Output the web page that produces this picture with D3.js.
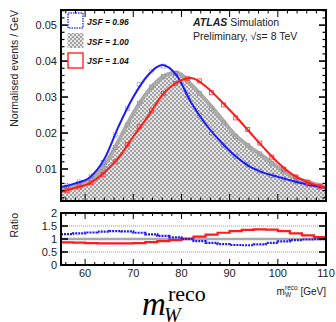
<!DOCTYPE html>
<html><head><meta charset="utf-8">
<script src="https://cdn.jsdelivr.net/npm/d3@7"></script>
<style>body{margin:0;background:#fff}svg{display:block}</style>
</head><body><div id="c"></div>
<script>
// ---- data ----
const fitX = [55,58,61,64,67,70,73,76,79,82,85,88,91,94,97,100,103,106,110];
const fitBlue = [0.0050,0.0060,0.0077,0.0128,0.0220,0.0300,0.0360,0.0389,0.0360,0.0285,0.0225,0.0178,0.0138,0.0108,0.0090,0.0078,0.0067,0.0057,0.0047];
const fitGray = [0.0042,0.0055,0.0068,0.0110,0.0180,0.0255,0.0315,0.0355,0.0368,0.0335,0.0292,0.0245,0.0196,0.0163,0.0135,0.0105,0.0080,0.0065,0.0050];
const fitRed  = [0.0036,0.0048,0.0060,0.0090,0.0132,0.0190,0.0245,0.0305,0.0340,0.0353,0.0330,0.0292,0.0250,0.0205,0.0160,0.0118,0.0085,0.0064,0.0048];

const binEdges = [55,57.5,60,62.5,65,67.5,70,72.5,75,77.5,80,82.5,85,87.5,90,92.5,95,97.5,100,102.5,105,107.5,110];
const histBlue = [0.0054,0.0064,0.0080,0.0118,0.0195,0.0268,0.0335,0.0372,0.0386,0.0365,0.0305,0.0248,0.0200,0.0166,0.0135,0.0112,0.0094,0.0082,0.0072,0.0064,0.0056,0.0049];
const histGray = [0.0046,0.0056,0.0071,0.0102,0.0160,0.0222,0.0283,0.0328,0.0357,0.0366,0.0345,0.0310,0.0268,0.0228,0.0190,0.0165,0.0142,0.0115,0.0092,0.0076,0.0064,0.0053];
const histRed  = [0.0040,0.0050,0.0062,0.0085,0.0120,0.0168,0.0218,0.0262,0.0310,0.0338,0.0352,0.0345,0.0312,0.0278,0.0242,0.0210,0.0172,0.0133,0.0100,0.0078,0.0062,0.0052];

const ratioBlue = [1.19,1.22,1.25,1.28,1.30,1.29,1.24,1.18,1.12,1.06,0.99,0.92,0.85,0.80,0.77,0.76,0.79,0.85,0.91,0.96,0.98,0.99];
const ratioRed  = [0.87,0.86,0.84,0.83,0.83,0.83,0.84,0.88,0.92,0.96,1.02,1.09,1.17,1.24,1.30,1.35,1.37,1.36,1.30,1.22,1.14,1.07];

const yTicksMain = [0.01,0.02,0.03,0.04,0.05];
const yTicksRatio = [0,0.5,1,1.5,2];
const xTicks = [60,70,80,90,100,110];
const legendLabels = ["JSF = 0.96","JSF = 1.00","JSF = 1.04"];

// ---- layout ----
const SANS="'Liberation Sans',Arial,sans-serif", SERIF="'Liberation Serif','DejaVu Serif',serif";
const W=336,H=322;
const L=61,R=326,mT=10,mB=201,rT=213,rB=265;
const svg=d3.select("#c").append("svg").attr("width",W).attr("height",H).attr("font-family",SANS);
const defs=svg.append("defs");
const pat=defs.append("pattern").attr("id","chk").attr("patternUnits","userSpaceOnUse").attr("width",4).attr("height",4);
pat.append("rect").attr("width",4).attr("height",4).attr("fill","#e4e4e4");
pat.append("rect").attr("width",2).attr("height",2).attr("fill","#a2a2a2");
pat.append("rect").attr("x",2).attr("y",2).attr("width",2).attr("height",2).attr("fill","#a2a2a2");
defs.append("clipPath").attr("id","cm").append("rect").attr("x",L).attr("y",mT).attr("width",R-L).attr("height",mB-mT);
defs.append("clipPath").attr("id","cr").append("rect").attr("x",L).attr("y",rT).attr("width",R-L).attr("height",rB-rT);

const x=d3.scaleLinear().domain([55,110]).range([L,R]);
const y=d3.scaleLinear().domain([0.0011,0.0542]).range([mB,mT]);
const yr=d3.scaleLinear().domain([0,2]).range([rB,rT]);

const gm=svg.append("g").attr("clip-path","url(#cm)");
const fitG=fitX.map((v,i)=>[v,fitGray[i]]);
gm.append("path").datum(fitG).attr("fill","url(#chk)")
  .attr("d",d3.area().x(d=>x(d[0])).y0(mB).y1(d=>y(d[1])-1).curve(d3.curveMonotoneX));

function histPts(vals){const p=[];vals.forEach((v,i)=>{p.push([binEdges[i],v]);p.push([binEdges[i+1],v]);});return p;}
function drawMarks(vals,color,dash){
  gm.selectAll(null).data(vals).enter().append("rect")
    .attr("x",(d,i)=>x((binEdges[i]+binEdges[i+1])/2)-2).attr("width",4)
    .attr("y",d=>y(d)-2).attr("height",4).attr("fill","none").attr("stroke",color).attr("stroke-width",0.8).attr("stroke-dasharray",dash||null);
}
const fitLine=d3.line().x(d=>x(d[0])).y(d=>y(d[1])).curve(d3.curveMonotoneX);
gm.append("path").datum(fitG).attr("fill","none").attr("stroke","#aaaaaa").attr("stroke-width",4).attr("d",fitLine);
drawMarks(histGray,"#999");
drawMarks(histBlue,"#4455ff","1,1");
gm.append("path").datum(fitX.map((v,i)=>[v,fitBlue[i]])).attr("fill","none").attr("stroke","#1a1aff").attr("stroke-width",2).attr("d",fitLine);
drawMarks(histRed,"#ff3333");
gm.append("path").datum(fitX.map((v,i)=>[v,fitRed[i]])).attr("fill","none").attr("stroke","#ff1a1a").attr("stroke-width",2).attr("d",fitLine);

function ticksFrame(top,bot,yscale,yMajor,yMinor,majLen){
  const g=svg.append("g").attr("stroke","#000");
  d3.range(56,110.01,2).forEach(v=>{const l=xTicks.includes(v)?majLen:majLen/2;
    g.append("line").attr("x1",x(v)).attr("x2",x(v)).attr("y1",bot).attr("y2",bot-l).attr("stroke-width",1);
    g.append("line").attr("x1",x(v)).attr("x2",x(v)).attr("y1",top).attr("y2",top+l).attr("stroke-width",1);});
  yMinor.forEach(v=>{const maj=yMajor.some(m=>Math.abs(m-v)<1e-9);const l=maj?7:3.5;
    g.append("line").attr("x1",L).attr("x2",L+l).attr("y1",yscale(v)).attr("y2",yscale(v)).attr("stroke-width",maj?1.6:1.2);
    g.append("line").attr("x1",R).attr("x2",R-l).attr("y1",yscale(v)).attr("y2",yscale(v)).attr("stroke-width",maj?1.6:1.2);});
  svg.append("rect").attr("x",L).attr("y",top).attr("width",R-L).attr("height",bot-top).attr("fill","none").attr("stroke","#000").attr("stroke-width",2);
}
ticksFrame(mT,mB,y,yTicksMain,d3.range(0.002,0.0541,0.002),7);
svg.selectAll(null).data(yTicksMain).enter().append("text")
  .attr("x",L-4).attr("y",d=>y(d)+4).attr("text-anchor","end").attr("font-size",11).attr("fill","#222").text(d=>d.toFixed(2));

const gr=svg.append("g").attr("clip-path","url(#cr)");
[0.5,1.5].forEach(v=>gr.append("line").attr("x1",L).attr("x2",R).attr("y1",yr(v)).attr("y2",yr(v)).attr("stroke","#999").attr("stroke-width",1.2).attr("stroke-dasharray","1,1"));
gr.append("line").attr("x1",L).attr("x2",R).attr("y1",yr(1)).attr("y2",yr(1)).attr("stroke","#aaa").attr("stroke-width",2.5);
const rline=d3.line().x(d=>x(d[0])).y(d=>yr(d[1]));
gr.append("path").datum(histPts(ratioRed)).attr("fill","none").attr("stroke","#ff1a1a").attr("stroke-width",2.2).attr("d",rline);
gr.append("path").datum(histPts(ratioBlue)).attr("fill","none").attr("stroke","#1a1aff").attr("stroke-width",2.2).attr("stroke-dasharray","2,1").attr("d",rline);
ticksFrame(rT,rB,yr,yTicksRatio,yTicksRatio,6);
svg.selectAll(null).data(yTicksRatio).enter().append("text")
  .attr("x",L-4).attr("y",d=>yr(d)+4).attr("text-anchor","end").attr("font-size",11).attr("fill","#222").text(d=>d);
svg.selectAll(null).data(xTicks).enter().append("text")
  .attr("x",d=>x(d)).attr("y",277).attr("text-anchor","middle").attr("font-size",11).attr("fill","#222").text(d=>d);

svg.append("text").attr("transform","translate(18,10) rotate(-90)").attr("text-anchor","end").attr("font-size",10.5).attr("fill","#222").text("Normalised events / GeV");
svg.append("text").attr("transform","translate(18,213) rotate(-90)").attr("text-anchor","end").attr("font-size",10.5).attr("fill","#222").text("Ratio");
const xt=svg.append("text").attr("x",R).attr("y",295).attr("text-anchor","end").attr("font-size",10).attr("fill","#222");
xt.append("tspan").text("m");
xt.append("tspan").attr("font-size",6.5).attr("dy",2).text("W");
xt.append("tspan").attr("font-size",6.5).attr("dx",-6).attr("dy",-7).text("reco");
xt.append("tspan").attr("dy",5).text(" [GeV]");

const big=svg.append("text").attr("font-family",SERIF).attr("fill","#000");
big.append("tspan").attr("x",142).attr("y",315).attr("font-size",33).attr("font-style","italic").text("m");
big.append("tspan").attr("x",168).attr("y",301).attr("font-size",22).text("reco");
big.append("tspan").attr("x",164).attr("y",322).attr("font-size",20).attr("font-style","italic").text("W");

const lg=svg.append("g");
lg.append("rect").attr("x",68).attr("y",13).attr("width",15).attr("height",15).attr("fill","none").attr("stroke","#3344ff").attr("stroke-width",1.5).attr("stroke-dasharray","1.5,1");
lg.append("rect").attr("x",67.5).attr("y",33).attr("width",16).attr("height",15).attr("fill","url(#chk)");
lg.append("rect").attr("x",68).attr("y",53).attr("width",15).attr("height",15).attr("fill","#fff").attr("stroke","#ff3333").attr("stroke-width",1.5);
lg.selectAll(null).data(legendLabels).enter().append("text")
  .attr("x",87).attr("y",(d,i)=>25+i*19.5).attr("font-size",8.5).attr("font-weight","bold").attr("font-style","italic").attr("fill","#111").text(d=>d);

const at=svg.append("text").attr("x",193).attr("y",26).attr("font-size",10.5).attr("fill","#222");
at.append("tspan").attr("font-weight","bold").attr("font-style","italic").text("ATLAS");
at.append("tspan").text(" Simulation");
svg.append("text").attr("x",193).attr("y",39.5).attr("font-size",10.5).attr("fill","#222").text("Preliminary, \u221As= 8 TeV");
</script></body></html>
